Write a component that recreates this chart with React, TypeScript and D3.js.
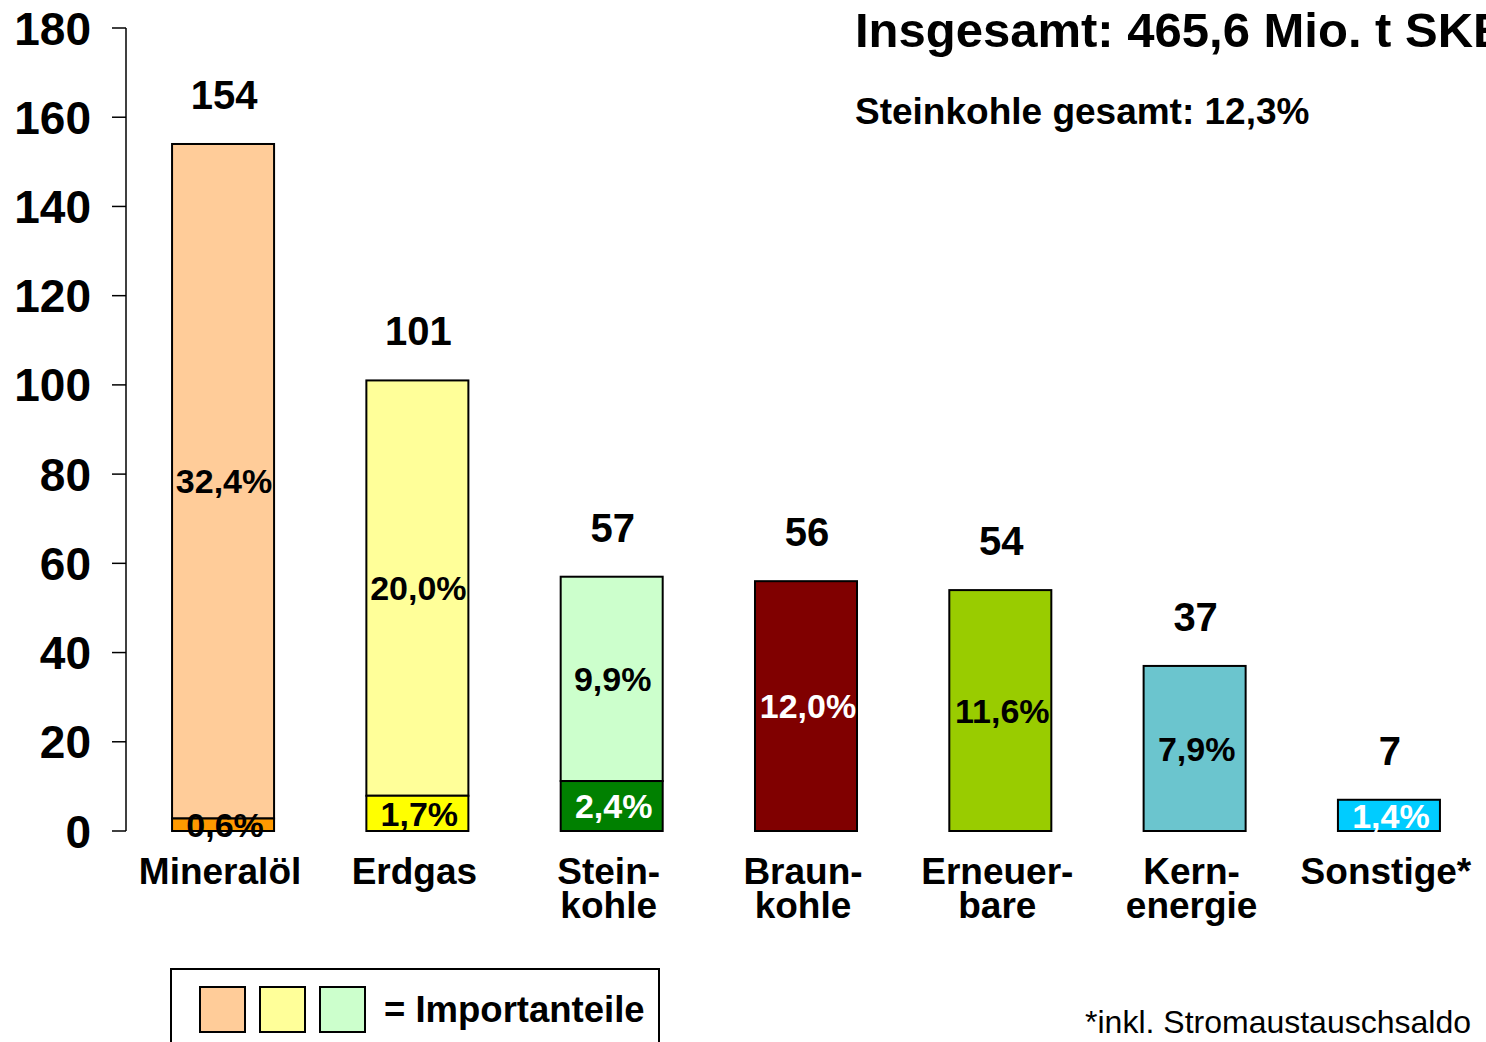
import * as d3 from "d3"

// Primärenergieverbrauch nach Energieträgern (Mio. t SKE)
const categories = ["Mineralöl", "Erdgas", "Steinkohle", "Braunkohle", "Erneuerbare", "Kernenergie", "Sonstige*"]
const categoryLines = [["Mineralöl"], ["Erdgas"], ["Stein-", "kohle"], ["Braun-", "kohle"], ["Erneuer-", "bare"], ["Kern-", "energie"], ["Sonstige*"]]
const totals = [154, 101, 57, 56, 54, 37, 7]
const domestic = [2.8, 7.9, 11.2, 56, 54, 37, 7]
const importLabels = ["32,4%", "20,0%", "9,9%", "", "", "", ""]
const domesticLabels = ["0,6%", "1,7%", "2,4%", "12,0%", "11,6%", "7,9%", "1,4%"]
const yTicks = [0, 20, 40, 60, 80, 100, 120, 140, 160, 180]

const importColors = ["#FFCC99", "#FFFF99", "#CCFFCC", "", "", "", ""]
const domesticColors = ["#FF9900", "#FFFF00", "#008000", "#800000", "#99CC00", "#6BC5CE", "#00CCFF"]
const domesticTextColors = ["#000", "#000", "#fff", "#fff", "#000", "#000", "#fff"]

const font = "'Liberation Sans', Arial, Helvetica, sans-serif"

export default function App() {
  const width = 1486
  const height = 1042

  const y = d3.scaleLinear().domain([0, 180]).range([831, 28])
  const x = d3
    .scaleBand()
    .domain(categories)
    .range([126, 1486])
    .paddingInner(0.475)
    .paddingOuter(0.237)

  const bw = x.bandwidth()

  return (
    <svg
      width={width}
      height={height}
      style={{ position: "absolute", left: 0, top: 0, background: "#fff" }}
      fontFamily={font}
      fontWeight="bold"
    >
      {/* Y axis */}
      <line x1={126} x2={126} y1={y(180)} y2={y(0)} stroke="#000" strokeWidth={1.5} />
      {yTicks.map((t) => (
        <g key={t}>
          <line x1={112} x2={126} y1={y(t)} y2={y(t)} stroke="#000" strokeWidth={1.5} />
          <text x={91} y={y(t)} dy="0.36em" textAnchor="end" fontSize={46}>
            {t}
          </text>
        </g>
      ))}

      {/* Bars */}
      {categories.map((c, i) => {
        const x0 = x(c) || 0
        const cx = x0 + bw / 2
        const dTop = y(domestic[i])
        const tTop = y(totals[i])
        const hasImport = totals[i] > domestic[i]
        return (
          <g key={c}>
            {hasImport && (
              <rect
                x={x0}
                y={tTop}
                width={bw}
                height={dTop - tTop}
                fill={importColors[i]}
                stroke="#000"
                strokeWidth={2}
              />
            )}
            <rect
              x={x0}
              y={dTop}
              width={bw}
              height={y(0) - dTop}
              fill={domesticColors[i]}
              stroke="#000"
              strokeWidth={2}
            />
            {hasImport && importLabels[i] && (
              <text
                x={cx + 1}
                y={(tTop + dTop) / 2}
                dy="0.36em"
                textAnchor="middle"
                fontSize={34}
                fill="#000"
              >
                {importLabels[i]}
              </text>
            )}
            <text
              x={cx + 2}
              y={(dTop + y(0)) / 2}
              dy="0.36em"
              textAnchor="middle"
              fontSize={34}
              fill={domesticTextColors[i]}
            >
              {domesticLabels[i]}
            </text>
            <text x={cx + 1} y={tTop - 35} textAnchor="middle" fontSize={40} fill="#000">
              {totals[i]}
            </text>
            <text textAnchor="middle" fontSize={37} fill="#000">
              {categoryLines[i].map((line, k) => (
                <tspan key={k} x={cx - 3} y={884 + k * 34}>
                  {line}
                </tspan>
              ))}
            </text>
          </g>
        )
      })}

      {/* Titles */}
      <text x={855} y={47} fontSize={49} fill="#000">
        Insgesamt: 465,6 Mio. t SKE
      </text>
      <text x={855} y={124} fontSize={37} fill="#000">
        Steinkohle gesamt: 12,3%
      </text>

      {/* Legend */}
      <rect x={171} y={969} width={488} height={90} fill="#fff" stroke="#000" strokeWidth={2} />
      {importColors
        .filter((col) => col)
        .map((col, k) => (
          <rect
            key={k}
            x={200 + k * 60}
            y={987}
            width={45}
            height={45}
            fill={col}
            stroke="#000"
            strokeWidth={2}
          />
        ))}
      <text x={384} y={1022} fontSize={36.5} fill="#000">
        = Importanteile
      </text>

      {/* Footnote */}
      <text x={1471} y={1033} textAnchor="end" fontSize={32} fontWeight="normal" fill="#000">
        *inkl. Stromaustauschsaldo
      </text>
    </svg>
  )
}
